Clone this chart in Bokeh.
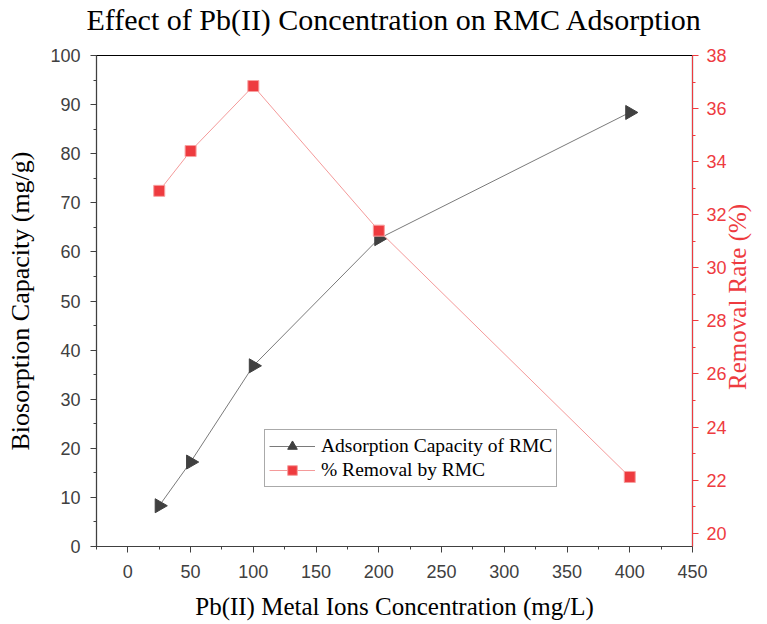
import numpy as np
from bokeh.plotting import figure
from bokeh.models import (Range1d, LinearAxis, SingleIntervalTicker, FixedTicker,
                          Legend, LegendItem, Title)
from bokeh.embed import file_html
from bokeh.resources import INLINE

concentration = [25, 50, 100, 200, 400]
adsorption_capacity = [8.3, 17.2, 36.8, 62.7, 88.4]
removal_rate = [32.9, 34.4, 36.85, 31.4, 22.12]

SERIF = "Liberation Serif"
SANS = "Liberation Sans"
RED = "#ee3b3f"
TICK_GREY = "#404040"
DARK = "#404040"
RIGHT_MIN, RIGHT_MAX = 19.5, 38
RIGHT_TITLE_START = 25.4  # where the upward-reading right title begins

p = figure(width=767, height=624, output_backend="svg", toolbar_location=None,
           x_range=Range1d(-25, 450), y_range=Range1d(0, 100),
           min_border_left=96, min_border_right=70, min_border_top=55, min_border_bottom=78,
           title_location=None)
p.grid.visible = False
p.outline_line_color = "black"
p.outline_line_width = 1.2

# spacer nearest the frame, then the main title above it
p.add_layout(Title(text=" ", text_font_size="10px", standoff=5), "above")
p.add_layout(Title(text="Effect of Pb(II) Concentration on RMC Adsorption",
                   text_font=SERIF, text_font_size="30px", text_font_style="normal",
                   text_color="black", align="center", vertical_align="top",
                   standoff=0), "above")

p.extra_y_ranges = {"right": Range1d(RIGHT_MIN, RIGHT_MAX)}

xa = p.xaxis[0]
xa.ticker = SingleIntervalTicker(interval=50, num_minor_ticks=2)
xa.axis_label = "Pb(II) Metal Ions Concentration (mg/L)"
ya = p.yaxis[0]
ya.ticker = SingleIntervalTicker(interval=10, num_minor_ticks=2)
ya.axis_label = "Biosorption Capacity (mg/g)"
for ax in (xa, ya):
    ax.axis_label_text_font = SERIF
    ax.axis_label_text_font_style = "normal"
    ax.axis_label_text_color = "black"
    ax.major_label_text_font = SANS
    ax.major_label_text_font_size = "18px"
    ax.major_label_text_color = TICK_GREY
    ax.axis_line_color = DARK
    ax.major_tick_line_color = DARK
    ax.minor_tick_line_color = DARK
    ax.major_tick_out = 6
    ax.major_tick_in = 0
    ax.minor_tick_out = 3
    ax.minor_tick_in = 0
xa.axis_label_text_font_size = "25px"
ya.axis_label_text_font_size = "26px"
xa.major_label_standoff = 12
xa.axis_label_standoff = 12
ya.major_label_standoff = 10
ya.axis_label_standoff = 12

ra = LinearAxis(y_range_name="right",
                ticker=SingleIntervalTicker(interval=2, num_minor_ticks=2))
ra.major_label_text_font = SANS
ra.major_label_text_font_size = "18px"
ra.major_label_text_color = RED
ra.axis_line_color = RED
ra.major_tick_line_color = RED
ra.minor_tick_line_color = RED
ra.major_tick_out = 6
ra.major_tick_in = 0
ra.minor_tick_out = 3
ra.minor_tick_in = 0
ra.major_label_standoff = 8
p.add_layout(ra, "right")

# right axis title reading bottom-to-top: a bare axis whose only label is the title
rt = LinearAxis(y_range_name="right",
                ticker=FixedTicker(ticks=[RIGHT_TITLE_START], minor_ticks=[]),
                major_label_overrides={RIGHT_TITLE_START: "Removal Rate (%)"})
rt.major_label_orientation = np.pi / 2
rt.major_label_text_font = SERIF
rt.major_label_text_font_size = "25px"
rt.major_label_text_color = RED
rt.axis_line_color = None
rt.major_tick_line_color = None
rt.minor_tick_line_color = None
rt.major_tick_out = 0
rt.major_tick_in = 0
rt.minor_tick_out = 0
rt.minor_tick_in = 0
rt.major_label_standoff = 8
p.add_layout(rt, "right")

l1 = p.line(concentration, adsorption_capacity, line_color="#7a7a7a", line_width=1)
s1 = p.scatter(concentration, adsorption_capacity, marker="triangle", size=14,
               angle=-np.pi / 2, fill_color=DARK, line_color=DARK)
l2 = p.line(concentration, removal_rate, y_range_name="right", line_color="#f49a9a", line_width=1)
s2 = p.scatter(concentration, removal_rate, y_range_name="right", marker="square", size=11,
               fill_color=RED, line_color="#f7a0a0", line_width=1)

legend = Legend(items=[
    LegendItem(label="Adsorption Capacity of RMC", renderers=[l1, s1]),
    LegendItem(label="% Removal by RMC", renderers=[l2, s2]),
], location=(168, 59))
legend.label_text_font = SERIF
legend.label_text_font_size = "19.5px"
legend.label_text_color = "black"
legend.glyph_width = 46
legend.glyph_height = 24
legend.label_height = 24
legend.spacing = 0
legend.padding = 4
legend.margin = 0
legend.label_standoff = 6
legend.border_line_color = "#555555"
legend.border_line_width = 1
legend.background_fill_alpha = 1
p.add_layout(legend, "center")

open("out.html", "w").write(file_html(p, INLINE))
